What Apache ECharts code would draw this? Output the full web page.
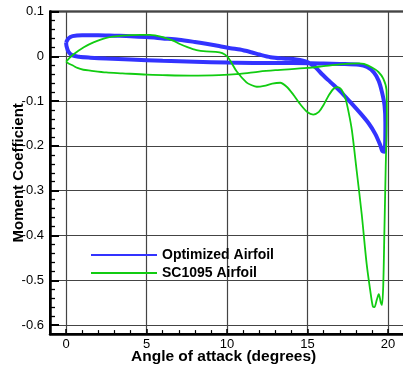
<!DOCTYPE html>
<html>
<head>
<meta charset="utf-8">
<script src="https://cdn.jsdelivr.net/npm/echarts@6/dist/echarts.min.js"></script>
<style>html,body{margin:0;padding:0;background:#fff;}#c{width:403px;height:366px;}</style>
</head>
<body>
<div id="c"></div>
<script>
// ---- data ----
const seriesNames = ['Optimized Airfoil', 'SC1095 Airfoil'];
const xTicks = [0, 5, 10, 15, 20];
const yTicks = [-0.6, -0.5, -0.4, -0.3, -0.2, -0.1, 0, 0.1];

const optimizedAlpha = [0.0,0.15,0.4,1.0,2.0,3.0,4.0,5.0,6.0,7.0,8.0,8.7,9.5,10.2,10.8,11.5,12.0,12.7,13.5,14.3,15.0,15.5,15.9,16.4,17.0,17.6,18.3,18.8,19.2,19.5,19.65,19.76,19.82,19.83,19.78,19.62,19.42,19.12,18.7,18.2,17.0,16.0,14.0,12.0,10.0,8.0,6.0,4.0,2.5,1.5,0.8,0.4,0.15,0.03,0.0];
const optimizedCm   = [0.031,0.040,0.045,0.047,0.047,0.046,0.045,0.043,0.040,0.037,0.032,0.028,0.023,0.018,0.015,0.009,0.004,-0.002,-0.005,-0.007,-0.013,-0.025,-0.040,-0.057,-0.077,-0.100,-0.128,-0.150,-0.173,-0.197,-0.212,-0.213,-0.19,-0.15,-0.11,-0.08,-0.055,-0.036,-0.024,-0.019,-0.017,-0.016,-0.015,-0.015,-0.014,-0.012,-0.010,-0.007,-0.005,-0.003,-0.001,0.002,0.010,0.022,0.031];

const sc1095Alpha = [0.0,0.2,0.45,1.1,1.7,2.5,3.5,4.6,5.2,6.0,6.65,7.1,7.5,8.1,8.7,9.3,9.7,10.0,10.2,10.6,11.2,11.5,11.85,12.3,12.8,13.3,13.7,14.1,14.5,15.0,15.35,15.7,16.0,16.3,16.6,16.85,17.1,17.35,17.55,17.75,18.05,18.36,18.67,18.9,19.05,19.15,19.3,19.42,19.55,19.62,19.7,19.77,19.85,19.92,19.9,19.7,19.4,19.0,18.5,18.2,17.0,16.0,15.0,13.0,12.0,10.8,9.5,7.7,6.0,5.0,3.5,2.5,1.5,1.07,0.7,0.45,0.15,0.0];
const sc1095Cm    = [-0.012,-0.004,0.004,0.020,0.031,0.041,0.046,0.048,0.048,0.043,0.035,0.027,0.021,0.014,0.011,0.010,0.007,0.000,-0.010,-0.034,-0.058,-0.064,-0.068,-0.066,-0.061,-0.059,-0.068,-0.085,-0.105,-0.125,-0.130,-0.124,-0.108,-0.088,-0.073,-0.069,-0.074,-0.094,-0.125,-0.165,-0.256,-0.352,-0.464,-0.525,-0.558,-0.560,-0.543,-0.531,-0.550,-0.555,-0.51,-0.39,-0.25,-0.12,-0.075,-0.05,-0.035,-0.025,-0.017,-0.016,-0.018,-0.022,-0.026,-0.031,-0.034,-0.039,-0.042,-0.043,-0.042,-0.041,-0.038,-0.036,-0.032,-0.030,-0.026,-0.021,-0.016,-0.012];

const FONT = "'Liberation Sans', Arial, Helvetica, sans-serif";
const pairs = (xs, ys) => xs.map((x, i) => [x, ys[i]]);

const chart = echarts.init(document.getElementById('c'), null, {renderer: 'canvas'});
const option = {
  animation: false,
  backgroundColor: '#fff',
  grid: [
    {left: 50, top: 11.5, width: 354.2, height: 322.6, show: true, borderColor: '#000', borderWidth: 2, containLabel: false, outerBoundsMode: 'none'},
    {left: 50, top: 11.5, width: 354.2, height: 313.6, outerBoundsMode: 'none'},
    {left: 66.1, top: 11.5, width: 322, height: 322.6, outerBoundsMode: 'none'}
  ],
  xAxis: [
    {gridIndex: 0, type: 'value', min: -1, max: 21,
     axisLine: {show: true, onZero: false, lineStyle: {color: '#000', width: 2.5}},
     axisTick: {show: false}, axisLabel: {show: false}, splitLine: {show: false},
     name: 'Angle of attack (degrees)', nameLocation: 'middle', nameGap: 15, nameMoveOverlap: false,
     nameTextStyle: {fontFamily: FONT, fontWeight: 'bold', fontSize: 15.5, color: '#000', padding: [0, 7, 0, 0]}},
    {gridIndex: 1, type: 'value', min: -1, max: 21, show: false},
    {gridIndex: 2, type: 'value', min: xTicks[0], max: xTicks[xTicks.length - 1], interval: 5,
     axisLine: {show: false, onZero: false},
     axisTick: {show: true, inside: true, length: 5, lineStyle: {color: '#000', width: 1.5}},
     minorTick: {show: true, splitNumber: 5, length: 4, lineStyle: {color: '#000', width: 1.2}},
     axisLabel: {show: true, margin: 4, fontFamily: FONT, fontSize: 13, color: '#000'},
     splitLine: {show: true, lineStyle: {color: '#444', width: 1.2}}}
  ],
  yAxis: [
    {gridIndex: 0, type: 'value', min: -0.62, max: 0.1,
     axisLine: {show: true, onZero: false, lineStyle: {color: '#000', width: 2.5}},
     axisTick: {show: false}, axisLabel: {show: false}, splitLine: {show: false},
     name: 'Moment Coefficient', nameLocation: 'middle', nameGap: 24, nameMoveOverlap: false,
     nameTextStyle: {fontFamily: FONT, fontWeight: 'bold', fontSize: 15, color: '#000'}},
    {gridIndex: 1, type: 'value', min: yTicks[0], max: yTicks[yTicks.length - 1], interval: 0.1,
     axisLine: {show: false, onZero: false},
     axisTick: {show: true, inside: true, length: 9, lineStyle: {color: '#000', width: 2}},
     minorTick: {show: true, splitNumber: 5, length: 5, lineStyle: {color: '#000', width: 1.3}},
     axisLabel: {show: true, margin: 6, fontFamily: FONT, fontSize: 13, color: '#000',
       formatter: v => (Math.abs(v) < 1e-9 ? '0' : (Math.round(v * 10) / 10).toString())},
     splitLine: {show: true, lineStyle: {color: '#444', width: 1.2}}},
    {gridIndex: 2, type: 'value', min: -0.62, max: 0.1, show: false}
  ],
  legend: {
    orient: 'vertical', left: 85, top: 243, itemWidth: 66, itemHeight: 14, itemGap: 4,
    itemStyle: {opacity: 0},
    textStyle: {fontFamily: FONT, fontWeight: 'bold', fontSize: 14, color: '#000'},
    data: seriesNames
  },
  series: [
    {name: seriesNames[0], type: 'line', xAxisIndex: 0, yAxisIndex: 0, data: pairs(optimizedAlpha, optimizedCm),
     showSymbol: false, symbol: 'none', smooth: 0.3, lineStyle: {color: '#3333ff', width: 4}, itemStyle: {color: '#3333ff'}, z: 3},
    {name: seriesNames[1], type: 'line', xAxisIndex: 0, yAxisIndex: 0, data: pairs(sc1095Alpha, sc1095Cm),
     showSymbol: false, symbol: 'none', smooth: 0.3, lineStyle: {color: '#11cc11', width: 1.8}, itemStyle: {color: '#11cc11'}, z: 4}
  ]
};
chart.setOption(option);
</script>
</body>
</html>
